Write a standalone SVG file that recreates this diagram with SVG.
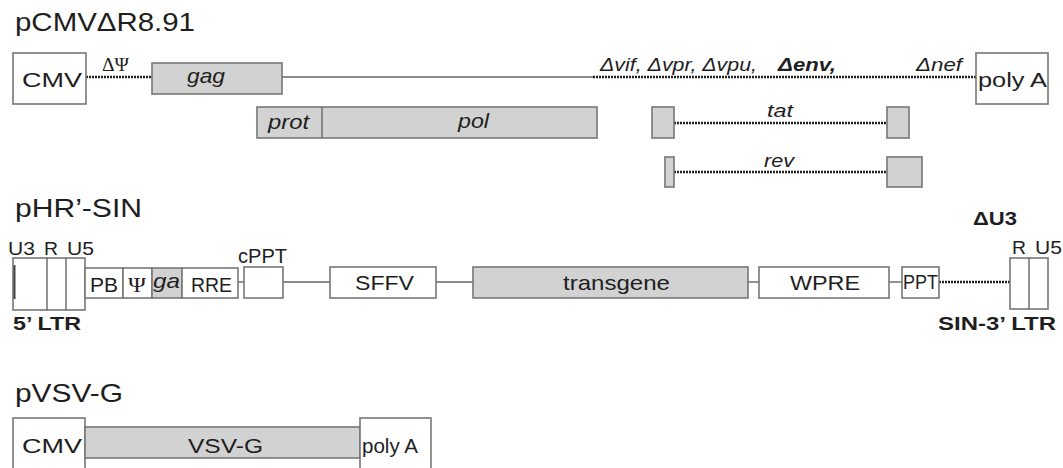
<svg xmlns="http://www.w3.org/2000/svg" width="1063" height="468" viewBox="0 0 1063 468">
<style>
text{font-family:"Liberation Sans",Arial,sans-serif;fill:#1e1e1e}
.t{font-size:25px}
.b{fill:#fff;stroke:#777;stroke-width:1.6}
.g{fill:#d2d2d2;stroke:#777;stroke-width:1.6}
.ln{stroke:#666;stroke-width:1.4;fill:none}
.dt{stroke:#222;stroke-width:2.6;stroke-dasharray:2 1;fill:none}
.m{font-size:21px}
.s{font-size:18px}
.i{font-style:italic}
.bd{font-weight:bold}
.sf{font-family:"Liberation Serif","Times New Roman",serif}
</style>
<rect width="1063" height="468" fill="#fff"/>

<text class="t" x="15" y="31" textLength="180" lengthAdjust="spacingAndGlyphs">pCMVΔR8.91</text>
<text class="t" x="15" y="217" textLength="127" lengthAdjust="spacingAndGlyphs">pHR’-SIN</text>
<text class="t" x="15" y="402" textLength="108" lengthAdjust="spacingAndGlyphs">pVSV-G</text>

<g id="connectors">
  <line class="dt" x1="86" y1="77" x2="152" y2="77"/>
  <line class="ln" x1="282" y1="77" x2="593" y2="77"/>
  <line class="dt" x1="593" y1="77" x2="976" y2="77"/>
  <line class="dt" x1="674" y1="123" x2="887" y2="123"/>
  <line class="dt" x1="674" y1="172" x2="887" y2="172"/>
  <line class="ln" x1="238" y1="282" x2="244" y2="282"/>
  <line class="ln" x1="283" y1="282" x2="330" y2="282"/>
  <line class="ln" x1="436" y1="282" x2="473" y2="282"/>
  <line class="ln" x1="748" y1="282" x2="759" y2="282"/>
  <line class="ln" x1="889" y1="282" x2="906" y2="282"/>
  <line class="dt" x1="939" y1="282" x2="1010" y2="282"/>
</g>

<g id="cmv1">
  <rect class="b" x="13" y="53" width="73" height="51"/>
  <text class="m" x="22" y="87" textLength="60" lengthAdjust="spacingAndGlyphs">CMV</text>
</g>
<g id="delta-psi">
  <text class="sf" x="102" y="71" font-size="18" textLength="27" lengthAdjust="spacingAndGlyphs">ΔΨ</text>
</g>
<g id="gag">
  <rect class="g" x="152" y="63" width="130" height="31"/>
  <text class="m i" x="187" y="83" textLength="38" lengthAdjust="spacingAndGlyphs">gag</text>
</g>
<g id="deletions">
  <text class="s i" x="600" y="71" textLength="157" lengthAdjust="spacingAndGlyphs">Δvif, Δvpr, Δvpu,</text>
  <text class="s i bd" x="778" y="71" textLength="58" lengthAdjust="spacingAndGlyphs">Δenv,</text>
  <text class="s i" x="916" y="71" textLength="46" lengthAdjust="spacingAndGlyphs">Δnef</text>
</g>
<g id="polyA1">
  <rect class="b" x="976" y="53" width="72" height="51"/>
  <text class="m" x="978" y="87" textLength="69" lengthAdjust="spacingAndGlyphs">poly A</text>
</g>
<g id="protpol">
  <rect class="g" x="257" y="107" width="340" height="31"/>
  <line class="ln" x1="322" y1="107" x2="322" y2="138"/>
  <text class="m i" x="268" y="129" textLength="41" lengthAdjust="spacingAndGlyphs">prot</text>
  <text class="m i" x="458" y="128" textLength="31" lengthAdjust="spacingAndGlyphs">pol</text>
</g>
<g id="tat">
  <rect class="g" x="652" y="107" width="22" height="31"/>
  <rect class="g" x="887" y="107" width="22" height="31"/>
  <text class="s i" x="767" y="117" textLength="26" lengthAdjust="spacingAndGlyphs">tat</text>
</g>
<g id="rev">
  <rect class="g" x="665" y="157" width="9" height="30"/>
  <rect class="g" x="887" y="157" width="35" height="30"/>
  <text class="s i" x="764" y="167" textLength="30" lengthAdjust="spacingAndGlyphs">rev</text>
</g>

<g id="ltr5">
  <rect class="b" x="13" y="258" width="72" height="52"/>
  <line class="ln" x1="47" y1="258" x2="47" y2="310"/>
  <line class="ln" x1="66" y1="258" x2="66" y2="310"/>
  <line stroke="#444" stroke-width="2" x1="14.5" y1="265" x2="14.5" y2="299"/>
  <text class="s" x="8" y="255" textLength="27" lengthAdjust="spacingAndGlyphs">U3</text>
  <text class="s" x="44" y="255" textLength="14" lengthAdjust="spacingAndGlyphs">R</text>
  <text class="s" x="67" y="255" textLength="27" lengthAdjust="spacingAndGlyphs">U5</text>
  <text class="s bd" x="13" y="330" textLength="68" lengthAdjust="spacingAndGlyphs">5’ LTR</text>
</g>
<g id="pb">
  <rect class="b" x="85" y="268" width="38" height="30"/>
  <text class="m" x="90" y="292" textLength="28" lengthAdjust="spacingAndGlyphs">PB</text>
</g>
<g id="psi">
  <rect class="b" x="123" y="268" width="29" height="30"/>
  <text class="sf" x="128" y="292" font-size="21" textLength="18" lengthAdjust="spacingAndGlyphs">Ψ</text>
</g>
<g id="ga">
  <rect class="g" x="152" y="268" width="30" height="30"/>
  <text class="m i" x="153" y="288" textLength="27" lengthAdjust="spacingAndGlyphs">ga</text>
</g>
<g id="rre">
  <rect class="b" x="182" y="268" width="56" height="30"/>
  <text class="m" x="191" y="292" textLength="41" lengthAdjust="spacingAndGlyphs">RRE</text>
</g>
<g id="cppt">
  <rect class="b" x="244" y="267" width="39" height="31"/>
  <text class="m" x="238" y="263" textLength="49" lengthAdjust="spacingAndGlyphs">cPPT</text>
</g>
<g id="sffv">
  <rect class="b" x="330" y="267" width="106" height="31"/>
  <text class="m" x="355" y="290" textLength="59" lengthAdjust="spacingAndGlyphs">SFFV</text>
</g>
<g id="transgene">
  <rect class="g" x="473" y="267" width="275" height="31"/>
  <text class="m" x="563" y="290" textLength="107" lengthAdjust="spacingAndGlyphs">transgene</text>
</g>
<g id="wpre">
  <rect class="b" x="759" y="267" width="130" height="31"/>
  <text class="m" x="790" y="290" textLength="70" lengthAdjust="spacingAndGlyphs">WPRE</text>
</g>
<g id="ppt">
  <rect class="b" x="902" y="267" width="37" height="31"/>
  <text class="m" x="903" y="289" textLength="35" lengthAdjust="spacingAndGlyphs">PPT</text>
</g>
<g id="ltr3">
  <rect class="b" x="1010" y="258" width="38" height="51"/>
  <line class="ln" x1="1029" y1="258" x2="1029" y2="309"/>
  <text class="s bd" x="973" y="225" textLength="44" lengthAdjust="spacingAndGlyphs">ΔU3</text>
  <text class="s" x="1012" y="254" textLength="14" lengthAdjust="spacingAndGlyphs">R</text>
  <text class="s" x="1035" y="254" textLength="27" lengthAdjust="spacingAndGlyphs">U5</text>
  <text class="s bd" x="938" y="330" textLength="118" lengthAdjust="spacingAndGlyphs">SIN-3’ LTR</text>
</g>

<g id="cmv2">
  <rect class="b" x="13" y="418" width="72" height="54"/>
  <text class="m" x="22" y="453" textLength="60" lengthAdjust="spacingAndGlyphs">CMV</text>
</g>
<g id="vsvg">
  <rect class="g" x="85" y="427" width="275" height="31"/>
  <text class="m" x="188" y="453" textLength="75" lengthAdjust="spacingAndGlyphs">VSV-G</text>
</g>
<g id="polyA2">
  <rect class="b" x="360" y="418" width="71" height="54"/>
  <text class="m" x="362" y="453" textLength="56" lengthAdjust="spacingAndGlyphs">poly A</text>
</g>
</svg>
